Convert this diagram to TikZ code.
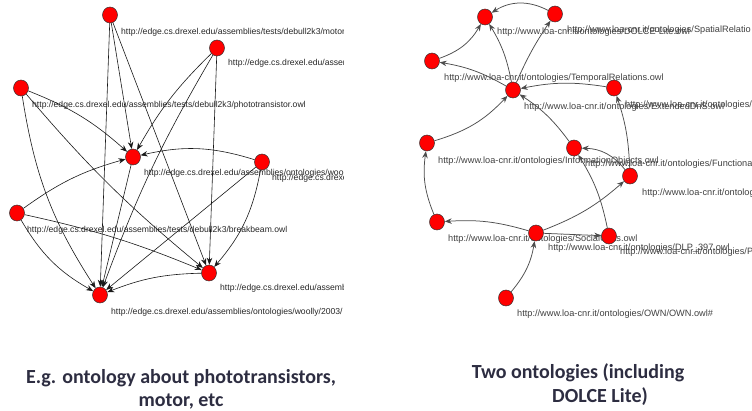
\documentclass[tikz,border=0pt]{standalone}
\usepackage{fontspec}
\setmainfont{Liberation Sans}
\newfontfamily\capfont{Carlito}
\usetikzlibrary{arrows.meta,backgrounds,shapes.geometric}
\definecolor{capcol}{RGB}{45,45,65}
\begin{document}
\begin{tikzpicture}[x=1pt,y=-1pt,
  vtx/.style={ellipse,draw=black!80,line width=0.5pt,fill=red,minimum width=15pt,minimum height=16pt,inner sep=0pt},
  lbl/.style={anchor=west,inner sep=0pt,font=\fontsize{8.6}{9}\selectfont,text=black!85},
  rlbl/.style={anchor=west,inner sep=0pt,font=\fontsize{9.2}{10}\selectfont,text=black!75},
  ledge/.style={-{Stealth[length=7pt,width=5.5pt]},line width=0.6pt,draw=black!90},
  redge/.style={-{Stealth[length=7pt,width=5.5pt]},line width=0.75pt,draw=black!70},
  captext/.style={font=\capfont\bfseries\fontsize{20}{24}\selectfont,text=capcol,inner sep=0pt}
]
\useasboundingbox (0,0) rectangle (752,411);

% ---------- left graph nodes ----------
\node[vtx] (A) at (110,15) {};
\node[vtx] (B) at (217,48) {};
\node[vtx] (C) at (21,88) {};
\node[vtx] (D) at (133,157) {};
\node[vtx] (E) at (262,162) {};
\node[vtx] (F) at (17,213) {};
\node[vtx] (G) at (209,273) {};
\node[vtx] (H) at (100,295) {};

% ---------- right graph nodes ----------
\node[vtx] (R1) at (485,17) {};
\node[vtx] (R2) at (555,14) {};
\node[vtx] (R3) at (432,61) {};
\node[vtx] (R4) at (513,90) {};
\node[vtx] (R5) at (614,88) {};
\node[vtx] (R6) at (427,143) {};
\node[vtx] (R7) at (574,148) {};
\node[vtx] (R8) at (630,176) {};
\node[vtx] (R9) at (437,222) {};
\node[vtx] (R10) at (536,233) {};
\node[vtx] (R11) at (609,236) {};
\node[vtx] (R12) at (506,298) {};

% ---------- left edges ----------
\draw[ledge] (A) -- (D);
\draw[ledge] (A) -- (H);
\draw[ledge] (A) -- (G);
\draw[ledge] (B) to[bend right=8] (D);
\draw[ledge] (B) to[bend right=5] (H);
\draw[ledge] (B) -- (G);
\draw[ledge] (C) to[bend left=10] (D);
\draw[ledge] (C) to[bend right=12] (H);
\draw[ledge] (C) to[bend right=5] (G);
\draw[ledge] (E) to[bend right=15] (D);
\draw[ledge] (E) -- (H);
\draw[ledge] (E) to[bend left=15] (G);
\draw[ledge] (F) to[bend left=10] (D);
\draw[ledge] (F) to[bend right=15] (H);
\draw[ledge] (F) to[bend left=5] (G);
\draw[ledge] (D) -- (H);
\draw[ledge] (G) to[bend right=10] (H);

% ---------- right edges ----------
\draw[redge] (R2) to[bend right=30] (R1);
\draw[redge] (R3) to[bend right=20] (R1);
\draw[redge] (R4) to[bend right=10] (R1);
\draw[redge] (R4) to[bend left=5] (R2);
\draw[redge] (R4) to[bend right=10] (R3);
\draw[redge] (R5) to[bend right=10] (R4);
\draw[redge] (R6) to[bend right=15] (R4);
\draw[redge] (R7) to[bend right=10] (R4);
\draw[redge] (R8) to[bend right=8] (R5);
\draw[redge] (R8) to[bend right=25] (R7);
\draw[redge] (R11) to[bend right=10] (R7);
\draw[redge] (R10) to[bend right=10] (R8);
\draw[redge] (R10) to[bend right=10] (R9);
\draw[redge] (R10) -- (R11);
\draw[redge] (R9) to[bend left=15] (R6);
\draw[redge] (R12) to[bend right=15] (R10);

% ---------- labels (behind) ----------
\begin{scope}[on background layer]
\begin{scope}
\clip (0,0) rectangle (343,330);
\node[lbl] (lA) at (121,32) {http://edge.cs.drexel.edu/assemblies/tests/debull2k3/motor};
\node[lbl] (lB) at (228,63) {http://edge.cs.drexel.edu/assem};
\node[lbl] (lC) at (32,105) {http://edge.cs.drexel.edu/assemblies/tests/debull2k3/phototransistor.owl};
\node[lbl] (lD) at (144,173) {http://edge.cs.drexel.edu/assemblies/ontologies/woo};
\node[lbl] (lE) at (272,178) {http://edge.cs.drexel};
\node[lbl] (lF) at (27,230) {http://edge.cs.drexel.edu/assemblies/tests/debull2k3/breakbeam.owl};
\node[lbl] (lG) at (220,288) {http://edge.cs.drexel.edu/assemb};
\node[lbl] (lH) at (111,312) {http://edge.cs.drexel.edu/assemblies/ontologies/woolly/2003/};
\end{scope}
\begin{scope}
\clip (380,0) rectangle (752,330);
\node[rlbl] (l1) at (497,32) {http://www.loa-cnr.it/ontologies/DOLCE-Lite.owl};
\node[rlbl] (l2) at (567,30) {http://www.loa-cnr.it/ontologies/SpatialRelatio};
\node[rlbl] (l3) at (444,78) {http://www.loa-cnr.it/ontologies/TemporalRelations.owl};
\node[rlbl] (l4) at (524,107) {http://www.loa-cnr.it/ontologies/ExtendedDnS.owl};
\node[rlbl] (l5) at (625,105) {http://www.loa-cnr.it/ontologies/};
\node[rlbl] (l6) at (438,161) {http://www.loa-cnr.it/ontologies/InformationObjects.owl};
\node[rlbl] (l7) at (585,164) {http://www.loa-cnr.it/ontologies/Functiona};
\node[rlbl] (l8) at (642,193) {http://www.loa-cnr.it/ontolog};
\node[rlbl] (l9) at (448,239) {http://www.loa-cnr.it/ontologies/SocialUnits.owl};
\node[rlbl] (l10) at (548,248) {http://www.loa-cnr.it/ontologies/DLP\_397.owl};
\node[rlbl] (l11) at (620,252) {http://www.loa-cnr.it/ontologies/P};
\node[rlbl] (l12) at (517,314) {http://www.loa-cnr.it/ontologies/OWN/OWN.owl\#};
\end{scope}
\end{scope}

% ---------- captions ----------
\node[captext] (c1) at (181,378) {E.g. ontology about phototransistors,};
\node[captext] (c2) at (181,402) {motor, etc};
\node[captext] (c3) at (578,373) {Two ontologies (including};
\node[captext] (c4) at (600,397) {DOLCE Lite)};
\end{tikzpicture}
\end{document}
